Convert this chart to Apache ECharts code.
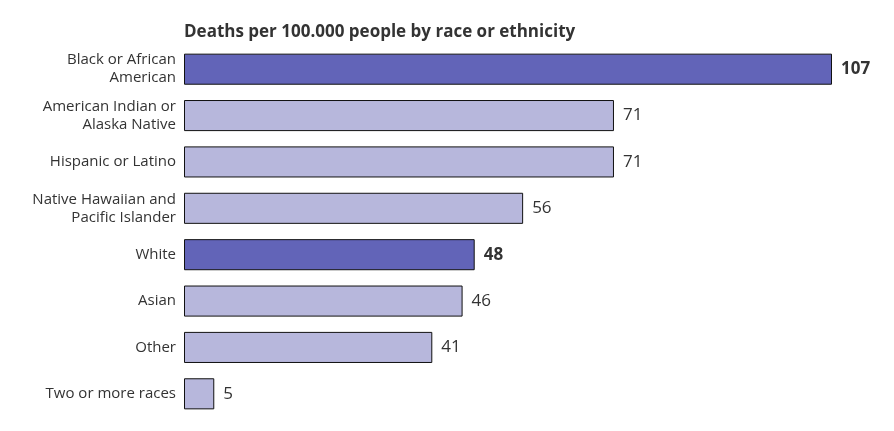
<!DOCTYPE html>
<html><head><meta charset="utf-8">
<script src="https://cdn.jsdelivr.net/npm/echarts@6/dist/echarts.min.js"></script>
<style>html,body{margin:0;padding:0;background:#fff}#c{width:894px;height:431px}</style>
</head><body><div id="c"></div>
<script>
const categories = ["Black or African\nAmerican","American Indian or\nAlaska Native","Hispanic or Latino","Native Hawaiian and\nPacific Islander","White","Asian","Other","Two or more races"];
const values = [107,71,71,56,48,46,41,5];
const highlighted = [true,false,false,false,true,false,false,false];
const titleText = "Deaths per 100.000 people by race or ethnicity";

const DARK = "#6264b8", LIGHT = "#b7b7dc";
const chart = echarts.init(document.getElementById('c'));
chart.setOption({
  animation:false,
  title:{text:titleText,left:184,top:24,padding:0,textStyle:{fontFamily:"Open Sans",fontSize:17,fontWeight:"bold",color:"#333"}},
  grid:{left:184,right:62,top:46,bottom:14},
  xAxis:{type:"value",min:0,max:107,show:false},
  yAxis:{type:"category",inverse:true,data:categories,axisLine:{show:false},axisTick:{show:false},
    axisLabel:{fontFamily:"Open Sans",fontSize:15,color:"#333",lineHeight:18,margin:8,align:"right",padding:[3,0,0,0]}},
  series:[{type:"bar",barCategoryGap:"33%",
    data:values.map((v,i)=>({value:v,itemStyle:{color:highlighted[i]?DARK:LIGHT},
      label:{fontWeight:highlighted[i]?"bold":"normal"}})),
    itemStyle:{borderColor:"#111",borderWidth:1},
    label:{show:true,position:"right",distance:9,fontFamily:"Open Sans",fontSize:17,color:"#333"}
  }]
});
</script></body></html>
